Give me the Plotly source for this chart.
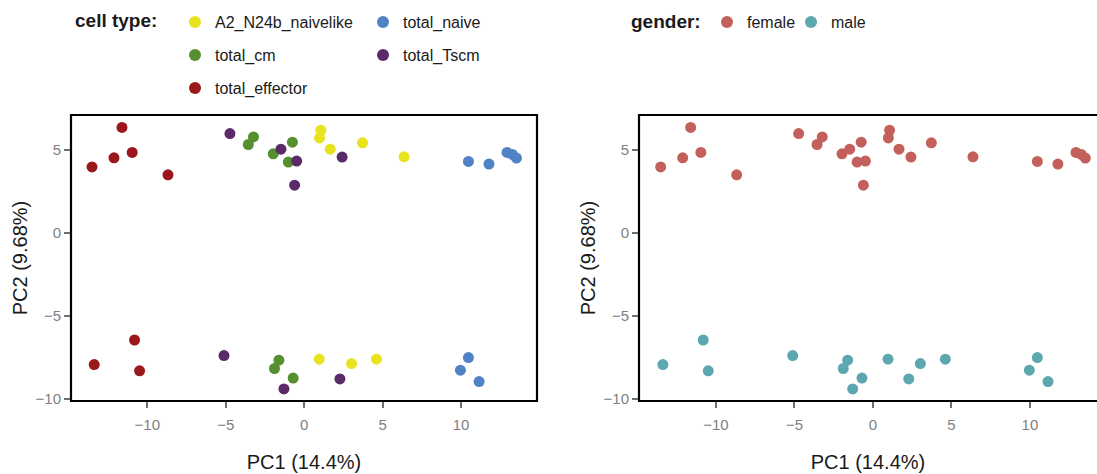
import plotly.graph_objects as go

# ---- data ----
pc1 = [-11.61, -13.52, -12.12, -10.96, -8.68, -10.81, -13.38, -10.49,   # total_effector
       -4.73, -1.48, -0.48, 2.42, -0.61, -5.11, -1.29, 2.28,            # total_Tscm
       -3.23, -3.56, -1.97, -0.75, -1.01, -1.61, -1.89, -0.70,          # total_cm
       1.06, 0.98, 1.66, 3.72, 6.37, 0.96, 3.02, 4.61,                  # A2_N24b_naivelike
       10.47, 11.78, 12.93, 13.27, 13.53, 10.47, 9.96, 11.15]           # total_naive
pc2 = [6.37, 3.99, 4.54, 4.86, 3.51, -6.45, -7.93, -8.31,
       6.00, 5.06, 4.34, 4.58, 2.89, -7.39, -9.40, -8.80,
       5.80, 5.34, 4.78, 5.48, 4.28, -7.67, -8.17, -8.75,
       6.20, 5.74, 5.06, 5.44, 4.60, -7.61, -7.87, -7.61,
       4.32, 4.16, 4.86, 4.74, 4.52, -7.51, -8.27, -8.96]
cell_type = (["total_effector"] * 8 + ["total_Tscm"] * 8 + ["total_cm"] * 8
             + ["A2_N24b_naivelike"] * 8 + ["total_naive"] * 8)
gender = (["female"] * 5 + ["male"] * 3) * 5

cell_order = ["A2_N24b_naivelike", "total_naive", "total_cm", "total_Tscm", "total_effector"]
cell_colors = {"A2_N24b_naivelike": "#E8E31E", "total_naive": "#5183C4",
               "total_cm": "#558F2F", "total_Tscm": "#5B2A69", "total_effector": "#9A181B"}
draw_order = ["A2_N24b_naivelike", "total_naive", "total_cm", "total_effector", "total_Tscm"]
gender_order = ["female", "male"]
gender_colors = {"female": "#C4605B", "male": "#5DA7B0"}

FONT = "Liberation Sans, Arial, Helvetica, sans-serif"
W, H = 1097, 474

fig = go.Figure()

# legend slots (pixel positions of the symbol centre)
cell_legend_pos = {"A2_N24b_naivelike": (195, 22), "total_naive": (383, 22),
                   "total_cm": (195, 55), "total_Tscm": (383, 55),
                   "total_effector": (195, 88)}
gender_legend_pos = {"female": (727, 22), "male": (811, 22)}

legend_names = {}
k = 1
for c in cell_order:
    legend_names[c] = "legend" if k == 1 else f"legend{k}"
    k += 1
for g in gender_order:
    legend_names[g] = f"legend{k}"
    k += 1

for c in draw_order:
    xs = [x for x, t in zip(pc1, cell_type) if t == c]
    ys = [y for y, t in zip(pc2, cell_type) if t == c]
    fig.add_trace(go.Scatter(x=xs, y=ys, mode="markers", name=c,
                             marker=dict(size=11, color=cell_colors[c]),
                             xaxis="x", yaxis="y", legend=legend_names[c]))

for g in gender_order:
    xs = [x for x, t in zip(pc1, gender) if t == g]
    ys = [y for y, t in zip(pc2, gender) if t == g]
    fig.add_trace(go.Scatter(x=xs, y=ys, mode="markers", name=g,
                             marker=dict(size=11, color=gender_colors[g]),
                             xaxis="x2", yaxis="y2", legend=legend_names[g]))

layout_legends = {}
for name, (px, py) in list(cell_legend_pos.items()) + list(gender_legend_pos.items()):
    layout_legends[legend_names[name]] = dict(
        x=(px - 20) / W, y=1 - py / H, xanchor="left", yanchor="middle",
        xref="paper", yref="paper",
        font=dict(family=FONT, size=16, color="#1a1a1a"),
        bgcolor="rgba(0,0,0,0)", borderwidth=0, itemsizing="constant")

tick_font = dict(family=FONT, size=15, color="#808080")
title_font = dict(family=FONT, size=20, color="#1a1a1a")

xl_dom = [71 / W, 537 / W]
xr_dom = [639 / W, 1.0]
y_dom = [1 - 401 / H, 1 - 115 / H]

def xaxis(dom, rng, anchor):
    return dict(domain=dom, range=rng, anchor=anchor, showgrid=False, zeroline=False,
                automargin=False,
                tickvals=[-10, -5, 0, 5, 10], ticks="outside", ticklen=6, tickwidth=1.5,
                tickcolor="#707070", tickfont=tick_font, showline=False,
                ticklabelstandoff=4,
                title=dict(text="PC1 (14.4%)", font=title_font, standoff=22))

def yaxis(rng, anchor):
    return dict(domain=y_dom, range=rng, anchor=anchor, showgrid=False, zeroline=False,
                automargin=False,
                tickvals=[-10, -5, 0, 5], ticks="outside", ticklen=6, tickwidth=1.5,
                tickcolor="#707070", tickfont=tick_font, showline=False,
                title=dict(text="PC2 (9.68%)", font=title_font, standoff=2))

fig.update_layout(
    width=W, height=H,
    margin=dict(l=0, r=0, t=0, b=0, autoexpand=False),
    paper_bgcolor="white", plot_bgcolor="white",
    font=dict(family=FONT),
    xaxis=xaxis(xl_dom, [-14.86, 14.84], "y"),
    yaxis=yaxis([-10.13, 7.12], "x"),
    xaxis2=xaxis(xr_dom, [-14.9, 14.27], "y2"),
    yaxis2=yaxis([-10.13, 7.12], "x2"),
    showlegend=True,
    **layout_legends,
    shapes=[
        dict(type="rect", xref="x domain", yref="y domain", x0=0, x1=1, y0=0, y1=1,
             line=dict(color="black", width=2.2), layer="above"),
        dict(type="rect", xref="x2 domain", yref="y2 domain", x0=0, x1=1.05, y0=0, y1=1,
             line=dict(color="black", width=2.2), layer="above"),
    ],
    annotations=[
        dict(text="<b>cell type:</b>", x=73 / W, y=1 - 20 / H, xref="paper", yref="paper",
             xanchor="left", yanchor="middle", showarrow=False,
             font=dict(family=FONT, size=19, color="#1a1a1a")),
        dict(text="<b>gender:</b>", x=629 / W, y=1 - 21 / H, xref="paper", yref="paper",
             xanchor="left", yanchor="middle", showarrow=False,
             font=dict(family=FONT, size=19, color="#1a1a1a")),
    ],
)

fig.write_html("out.html")
